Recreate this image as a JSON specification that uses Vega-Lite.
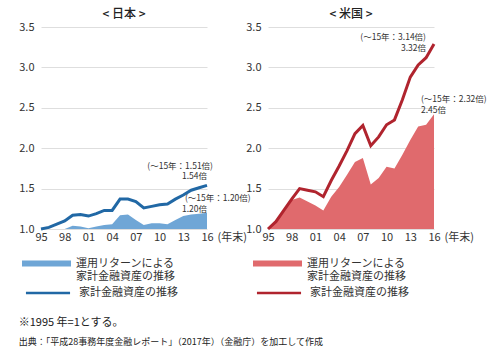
{
  "$schema": "https://vega.github.io/schema/vega-lite/v6.json",
  "padding": {"left": 18, "top": 8, "right": 0, "bottom": 0},
  "config": {
    "font": "Noto Sans CJK JP",
    "view": {"stroke": null},
    "axis": {"labelFont": "Noto Sans CJK JP", "labelColor": "#333", "labelFontSize": 11, "ticks": false, "domain": false},
    "legend": {"labelFont": "Noto Sans CJK JP", "labelFontSize": 11, "labelColor": "#333", "labelLimit": 0, "labelOffset": 5, "title": null, "orient": "none", "symbolSize": 2401, "symbolOpacity": 1},
    "title": {"font": "Noto Sans CJK JP", "color": "#222"}
  },
  "datasets": {
    "jp": [
      {"year": 1995, "series": "運用リターンによる\n家計金融資産の推移", "value": 1.00},
      {"year": 1996, "series": "運用リターンによる\n家計金融資産の推移", "value": 1.00},
      {"year": 1997, "series": "運用リターンによる\n家計金融資産の推移", "value": 1.00},
      {"year": 1998, "series": "運用リターンによる\n家計金融資産の推移", "value": 1.00},
      {"year": 1999, "series": "運用リターンによる\n家計金融資産の推移", "value": 1.04},
      {"year": 2000, "series": "運用リターンによる\n家計金融資産の推移", "value": 1.03},
      {"year": 2001, "series": "運用リターンによる\n家計金融資産の推移", "value": 1.01},
      {"year": 2002, "series": "運用リターンによる\n家計金融資産の推移", "value": 1.03},
      {"year": 2003, "series": "運用リターンによる\n家計金融資産の推移", "value": 1.05},
      {"year": 2004, "series": "運用リターンによる\n家計金融資産の推移", "value": 1.06},
      {"year": 2005, "series": "運用リターンによる\n家計金融資産の推移", "value": 1.17},
      {"year": 2006, "series": "運用リターンによる\n家計金融資産の推移", "value": 1.18},
      {"year": 2007, "series": "運用リターンによる\n家計金融資産の推移", "value": 1.11},
      {"year": 2008, "series": "運用リターンによる\n家計金融資産の推移", "value": 1.05},
      {"year": 2009, "series": "運用リターンによる\n家計金融資産の推移", "value": 1.07},
      {"year": 2010, "series": "運用リターンによる\n家計金融資産の推移", "value": 1.07},
      {"year": 2011, "series": "運用リターンによる\n家計金融資産の推移", "value": 1.06},
      {"year": 2012, "series": "運用リターンによる\n家計金融資産の推移", "value": 1.11},
      {"year": 2013, "series": "運用リターンによる\n家計金融資産の推移", "value": 1.16},
      {"year": 2014, "series": "運用リターンによる\n家計金融資産の推移", "value": 1.18},
      {"year": 2015, "series": "運用リターンによる\n家計金融資産の推移", "value": 1.19},
      {"year": 2016, "series": "運用リターンによる\n家計金融資産の推移", "value": 1.20},
      {"year": 1995, "series": "家計金融資産の推移", "value": 1.00},
      {"year": 1996, "series": "家計金融資産の推移", "value": 1.02},
      {"year": 1997, "series": "家計金融資産の推移", "value": 1.06},
      {"year": 1998, "series": "家計金融資産の推移", "value": 1.10},
      {"year": 1999, "series": "家計金融資産の推移", "value": 1.17},
      {"year": 2000, "series": "家計金融資産の推移", "value": 1.18},
      {"year": 2001, "series": "家計金融資産の推移", "value": 1.16},
      {"year": 2002, "series": "家計金融資産の推移", "value": 1.19},
      {"year": 2003, "series": "家計金融資産の推移", "value": 1.23},
      {"year": 2004, "series": "家計金融資産の推移", "value": 1.23},
      {"year": 2005, "series": "家計金融資産の推移", "value": 1.37},
      {"year": 2006, "series": "家計金融資産の推移", "value": 1.37},
      {"year": 2007, "series": "家計金融資産の推移", "value": 1.34},
      {"year": 2008, "series": "家計金融資産の推移", "value": 1.26},
      {"year": 2009, "series": "家計金融資産の推移", "value": 1.28},
      {"year": 2010, "series": "家計金融資産の推移", "value": 1.30},
      {"year": 2011, "series": "家計金融資産の推移", "value": 1.31},
      {"year": 2012, "series": "家計金融資産の推移", "value": 1.37},
      {"year": 2013, "series": "家計金融資産の推移", "value": 1.42},
      {"year": 2014, "series": "家計金融資産の推移", "value": 1.48},
      {"year": 2015, "series": "家計金融資産の推移", "value": 1.51},
      {"year": 2016, "series": "家計金融資産の推移", "value": 1.54}
    ],
    "us": [
      {"year": 1995, "series": "運用リターンによる\n家計金融資産の推移", "value": 1.00},
      {"year": 1996, "series": "運用リターンによる\n家計金融資産の推移", "value": 1.08},
      {"year": 1997, "series": "運用リターンによる\n家計金融資産の推移", "value": 1.22},
      {"year": 1998, "series": "運用リターンによる\n家計金融資産の推移", "value": 1.36},
      {"year": 1999, "series": "運用リターンによる\n家計金融資産の推移", "value": 1.39},
      {"year": 2000, "series": "運用リターンによる\n家計金融資産の推移", "value": 1.34},
      {"year": 2001, "series": "運用リターンによる\n家計金融資産の推移", "value": 1.29},
      {"year": 2002, "series": "運用リターンによる\n家計金融資産の推移", "value": 1.23},
      {"year": 2003, "series": "運用リターンによる\n家計金融資産の推移", "value": 1.40},
      {"year": 2004, "series": "運用リターンによる\n家計金融資産の推移", "value": 1.52},
      {"year": 2005, "series": "運用リターンによる\n家計金融資産の推移", "value": 1.67},
      {"year": 2006, "series": "運用リターンによる\n家計金融資産の推移", "value": 1.83},
      {"year": 2007, "series": "運用リターンによる\n家計金融資産の推移", "value": 1.88},
      {"year": 2008, "series": "運用リターンによる\n家計金融資産の推移", "value": 1.55},
      {"year": 2009, "series": "運用リターンによる\n家計金融資産の推移", "value": 1.63},
      {"year": 2010, "series": "運用リターンによる\n家計金融資産の推移", "value": 1.77},
      {"year": 2011, "series": "運用リターンによる\n家計金融資産の推移", "value": 1.75},
      {"year": 2012, "series": "運用リターンによる\n家計金融資産の推移", "value": 1.92},
      {"year": 2013, "series": "運用リターンによる\n家計金融資産の推移", "value": 2.10},
      {"year": 2014, "series": "運用リターンによる\n家計金融資産の推移", "value": 2.27},
      {"year": 2015, "series": "運用リターンによる\n家計金融資産の推移", "value": 2.29},
      {"year": 2016, "series": "運用リターンによる\n家計金融資産の推移", "value": 2.42},
      {"year": 1995, "series": "家計金融資産の推移", "value": 1.00},
      {"year": 1996, "series": "家計金融資産の推移", "value": 1.09},
      {"year": 1997, "series": "家計金融資産の推移", "value": 1.23},
      {"year": 1998, "series": "家計金融資産の推移", "value": 1.37},
      {"year": 1999, "series": "家計金融資産の推移", "value": 1.50},
      {"year": 2000, "series": "家計金融資産の推移", "value": 1.48},
      {"year": 2001, "series": "家計金融資産の推移", "value": 1.46},
      {"year": 2002, "series": "家計金融資産の推移", "value": 1.40},
      {"year": 2003, "series": "家計金融資産の推移", "value": 1.60},
      {"year": 2004, "series": "家計金融資産の推移", "value": 1.78},
      {"year": 2005, "series": "家計金融資産の推移", "value": 1.97},
      {"year": 2006, "series": "家計金融資産の推移", "value": 2.18},
      {"year": 2007, "series": "家計金融資産の推移", "value": 2.28},
      {"year": 2008, "series": "家計金融資産の推移", "value": 2.03},
      {"year": 2009, "series": "家計金融資産の推移", "value": 2.14},
      {"year": 2010, "series": "家計金融資産の推移", "value": 2.29},
      {"year": 2011, "series": "家計金融資産の推移", "value": 2.35},
      {"year": 2012, "series": "家計金融資産の推移", "value": 2.60},
      {"year": 2013, "series": "家計金融資産の推移", "value": 2.88},
      {"year": 2014, "series": "家計金融資産の推移", "value": 3.03},
      {"year": 2015, "series": "家計金融資産の推移", "value": 3.12},
      {"year": 2016, "series": "家計金融資産の推移", "value": 3.29}
    ],
    "jpNotes": [
      {"year": 2016, "value": 1.54, "label": "(〜15年：1.51倍)", "kind": "lineParen"},
      {"year": 2016, "value": 1.54, "label": "1.54倍", "kind": "lineVal"},
      {"year": 2016, "value": 1.20, "label": "(〜15年：1.20倍)", "kind": "areaParen"},
      {"year": 2016, "value": 1.20, "label": "1.20倍", "kind": "areaVal"}
    ],
    "usNotes": [
      {"year": 2016, "value": 3.29, "label": "(〜15年：3.14倍)", "kind": "lineParen"},
      {"year": 2016, "value": 3.29, "label": "3.32倍", "kind": "lineVal"},
      {"year": 2016, "value": 2.42, "label": "(〜15年：2.32倍)", "kind": "areaParen"},
      {"year": 2016, "value": 2.42, "label": "2.45倍", "kind": "areaVal"}
    ]
  },
  "title": {
    "text": "※1995 年=1とする。",
    "subtitle": " 出典：「平成28事務年度金融レポート」（2017年）（金融庁）を加工して作成",
    "orient": "bottom",
    "anchor": "start",
    "fontSize": 11,
    "fontWeight": "normal",
    "subtitleFontSize": 9,
    "subtitleColor": "#222",
    "subtitlePadding": 10,
    "offset": 19
  },
  "bounds": "flush",
  "spacing": 61,
  "resolve": {"scale": {"fill": "independent", "stroke": "independent"}, "legend": {"fill": "independent", "stroke": "independent"}},
  "hconcat": [
    {
      "width": 166,
      "height": 202,
      "title": {"text": "< 日本 >", "fontSize": 12, "fontWeight": 500, "offset": 0},
      "encoding": {
        "x": {"field": "year", "type": "quantitative", "scale": {"domain": [1995, 2016], "nice": false},
          "axis": {"values": [1995, 1998, 2001, 2004, 2007, 2010, 2013, 2016], "format": "d", "labelExpr": "substring(datum.label, 2)", "labelOverlap": false, "labelFlush": false, "grid": false, "labelPadding": 2, "title": "(年末)", "titleFontSize": 11, "titleFontWeight": "normal", "titleColor": "#333", "titleAlign": "left", "titleAnchor": "start", "titleX": 176, "titleY": 8, "titleBaseline": "middle"}},
        "y": {"field": "value", "type": "quantitative", "scale": {"domain": [1, 3.5], "nice": false, "zero": false},
          "axis": {"values": [1, 1.5, 2, 2.5, 3, 3.5], "format": ".1f", "title": null, "grid": true, "gridColor": "#dedede", "labelPadding": 7}}
      },
      "layer": [
        {
          "data": {"name": "jp"},
          "transform": [{"filter": "datum.series !== '家計金融資産の推移'"}],
          "mark": {"type": "area", "opacity": 1},
          "encoding": {
            "y2": {"datum": 1},
            "fill": {"field": "series", "type": "nominal",
              "scale": {"domain": ["運用リターンによる\n家計金融資産の推移"], "range": ["#6fa6d6"]},
              "legend": {"legendX": -19, "legendY": 212, "labelExpr": "split(datum.label, '\\n')", "symbolType": "M-1,-0.12H1V0.12H-1Z", "symbolStrokeWidth": 0}
            }
          }
        },
        {
          "data": {"name": "jp"},
          "transform": [{"filter": "datum.series === '家計金融資産の推移'"}],
          "mark": {"type": "line", "strokeWidth": 3},
          "encoding": {
            "stroke": {"field": "series", "type": "nominal",
              "scale": {"domain": ["家計金融資産の推移"], "range": ["#2168a5"]},
              "legend": {"legendX": -19, "legendY": 240, "symbolType": "M-0.9,0H0.9", "symbolStrokeWidth": 2.5}
            }
          }
        },
        {
          "data": {"name": "jpNotes"},
          "transform": [{"filter": "datum.kind === 'lineParen'"}],
          "mark": {"type": "text", "align": "right", "baseline": "middle", "dx": 6, "dy": -19, "fontSize": 8.5, "color": "#333"},
          "encoding": {"text": {"field": "label"}}
        },
        {
          "data": {"name": "jpNotes"},
          "transform": [{"filter": "datum.kind === 'lineVal'"}],
          "mark": {"type": "text", "align": "right", "baseline": "middle", "dx": 0, "dy": -9, "fontSize": 8.5, "color": "#333"},
          "encoding": {"text": {"field": "label"}}
        },
        {
          "data": {"name": "jpNotes"},
          "transform": [{"filter": "datum.kind === 'areaParen'"}],
          "mark": {"type": "text", "align": "left", "baseline": "middle", "dx": -22, "dy": -15, "fontSize": 8.5, "color": "#333"},
          "encoding": {"text": {"field": "label"}}
        },
        {
          "data": {"name": "jpNotes"},
          "transform": [{"filter": "datum.kind === 'areaVal'"}],
          "mark": {"type": "text", "align": "right", "baseline": "middle", "dx": 0, "dy": -4, "fontSize": 8.5, "color": "#333"},
          "encoding": {"text": {"field": "label"}}
        }
      ]
    },
    {
      "width": 166,
      "height": 202,
      "title": {"text": "< 米国 >", "fontSize": 12, "fontWeight": 500, "offset": 0},
      "encoding": {
        "x": {"field": "year", "type": "quantitative", "scale": {"domain": [1995, 2016], "nice": false},
          "axis": {"values": [1995, 1998, 2001, 2004, 2007, 2010, 2013, 2016], "format": "d", "labelExpr": "substring(datum.label, 2)", "labelOverlap": false, "labelFlush": false, "grid": false, "labelPadding": 2, "title": "(年末)", "titleFontSize": 11, "titleFontWeight": "normal", "titleColor": "#333", "titleAlign": "left", "titleAnchor": "start", "titleX": 176, "titleY": 8, "titleBaseline": "middle"}},
        "y": {"field": "value", "type": "quantitative", "scale": {"domain": [1, 3.5], "nice": false, "zero": false},
          "axis": {"values": [1, 1.5, 2, 2.5, 3, 3.5], "format": ".1f", "title": null, "grid": true, "gridColor": "#dedede", "labelPadding": 7}}
      },
      "layer": [
        {
          "data": {"name": "us"},
          "transform": [{"filter": "datum.series !== '家計金融資産の推移'"}],
          "mark": {"type": "area", "opacity": 1},
          "encoding": {
            "y2": {"datum": 1},
            "fill": {"field": "series", "type": "nominal",
              "scale": {"domain": ["運用リターンによる\n家計金融資産の推移"], "range": ["#e06a6d"]},
              "legend": {"legendX": -15, "legendY": 212, "labelExpr": "split(datum.label, '\\n')", "symbolType": "M-1,-0.12H1V0.12H-1Z", "symbolStrokeWidth": 0}
            }
          }
        },
        {
          "data": {"name": "us"},
          "transform": [{"filter": "datum.series === '家計金融資産の推移'"}],
          "mark": {"type": "line", "strokeWidth": 3},
          "encoding": {
            "stroke": {"field": "series", "type": "nominal",
              "scale": {"domain": ["家計金融資産の推移"], "range": ["#b0242e"]},
              "legend": {"legendX": -15, "legendY": 240, "symbolType": "M-0.9,0H0.9", "symbolStrokeWidth": 2.5}
            }
          }
        },
        {
          "data": {"name": "usNotes"},
          "transform": [{"filter": "datum.kind === 'lineParen'"}],
          "mark": {"type": "text", "align": "right", "baseline": "middle", "dx": -8, "dy": -7, "fontSize": 8.5, "color": "#333"},
          "encoding": {"text": {"field": "label"}}
        },
        {
          "data": {"name": "usNotes"},
          "transform": [{"filter": "datum.kind === 'lineVal'"}],
          "mark": {"type": "text", "align": "right", "baseline": "middle", "dx": -8, "dy": 4, "fontSize": 8.5, "color": "#333"},
          "encoding": {"text": {"field": "label"}}
        },
        {
          "data": {"name": "usNotes"},
          "transform": [{"filter": "datum.kind === 'areaParen'"}],
          "mark": {"type": "text", "align": "left", "baseline": "middle", "dx": -13, "dy": -15, "fontSize": 8.5, "color": "#333"},
          "encoding": {"text": {"field": "label"}}
        },
        {
          "data": {"name": "usNotes"},
          "transform": [{"filter": "datum.kind === 'areaVal'"}],
          "mark": {"type": "text", "align": "left", "baseline": "middle", "dx": -13, "dy": -4, "fontSize": 8.5, "color": "#333"},
          "encoding": {"text": {"field": "label"}}
        }
      ]
    }
  ]
}
